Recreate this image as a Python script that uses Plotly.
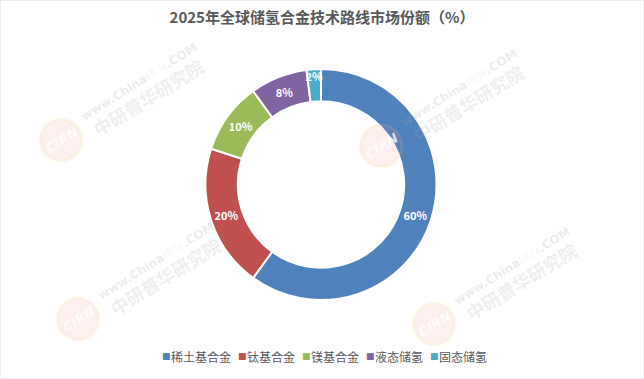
import plotly.graph_objects as go

categories = ["稀土基合金", "钛基合金", "镁基合金", "液态储氢", "固态储氢"]
values = [60, 20, 10, 8, 2]
colors = ["#4F81BD", "#C0504D", "#9BBB59", "#8064A2", "#4BACC6"]
title_text = "2025年全球储氢合金技术路线市场份额（%）"

W, H = 644, 379
top, bottom = 69, 300
cx = 321

fig = go.Figure(go.Pie(
    labels=categories,
    values=values,
    hole=0.72,
    sort=False,
    direction="clockwise",
    rotation=0,
    marker=dict(colors=colors, line=dict(color="white", width=2)),
    texttemplate="<b>%{value}%</b>",
    textposition="inside",
    insidetextorientation="horizontal",
    textfont=dict(color="white", size=11, family="Noto Sans CJK SC"),
    domain=dict(x=[(cx - 200) / W, (cx + 200) / W], y=[(H - bottom) / H, (H - top) / H]),
    hoverinfo="label+percent",
    showlegend=False,
))

def px(x, y):
    return x / W, 1 - y / H

annotations = []
shapes = []

# watermarks (faint)
for (x, y) in [(148, 97), (468, 103), (165, 276), (521, 281)]:
    ax, ay = px(x, y)
    annotations.append(dict(x=ax, y=ay, xref="paper", yref="paper", showarrow=False,
                            xanchor="center", yanchor="middle",
                            text="<b>中研普华研究院</b>", textangle=-32,
                            font=dict(size=18, color="rgba(170,170,170,0.2)", family="Noto Sans CJK SC")))
    wx, wy = px(x - 9, y - 15)
    annotations.append(dict(x=wx, y=wy, xref="paper", yref="paper", showarrow=False,
                            xanchor="center", yanchor="middle",
                            text="<b>www.China<span style='color:rgba(230,120,120,0.3)'>IRN</span>.COM</b>",
                            textangle=-32,
                            font=dict(size=12, color="rgba(170,170,170,0.22)", family="DejaVu Sans")))
    lx, ly = x - 87, y + 43
    shapes.append(dict(type="circle", xref="paper", yref="paper",
                       x0=(lx - 21) / W, x1=(lx + 21) / W, y0=1 - (ly + 21) / H, y1=1 - (ly - 21) / H,
                       fillcolor="rgba(235,120,110,0.11)", line=dict(color="rgba(250,220,120,0.13)", width=3)))
    cxl, cyl = px(lx, ly)
    annotations.append(dict(x=cxl, y=cyl, xref="paper", yref="paper", showarrow=False,
                            xanchor="center", yanchor="middle",
                            text="<b><i>CIRN</i></b>", textangle=-32,
                            font=dict(size=13, color="rgba(255,255,255,0.8)", family="DejaVu Sans")))

# legend built from categories / colors
legend_y = 356
x = 160
for name, col in zip(categories, colors):
    sx, sy = px(x, legend_y)
    annotations.append(dict(x=sx, y=sy, xref="paper", yref="paper", showarrow=False,
                            xanchor="left", yanchor="middle", text="■",
                            font=dict(size=9, color=col, family="DejaVu Sans")))
    tx, ty = px(x + 9, legend_y)
    annotations.append(dict(x=tx, y=ty, xref="paper", yref="paper", showarrow=False,
                            xanchor="left", yanchor="middle", text=name,
                            font=dict(size=12, color="#595959", family="Noto Sans CJK SC")))
    x = x + 9 + 12 * len(name) + 7

shapes.append(dict(type="rect", xref="paper", yref="paper", x0=0, y0=0, x1=1, y1=1,
                   line=dict(color="#D9D9D9", width=1)))

fig.update_layout(
    width=W, height=H,
    margin=dict(l=0, r=0, t=0, b=0),
    paper_bgcolor="white",
    plot_bgcolor="white",
    font=dict(family="Noto Sans CJK SC", color="#595959"),
    title=dict(
        text="<b>" + title_text + "</b>",
        x=0.5, xanchor="center",
        y=1 - 18 / H, yanchor="middle",
        font=dict(size=15, color="#595959", family="Noto Sans CJK SC"),
    ),
    uniformtext=dict(minsize=11, mode="show"),
    showlegend=False,
    annotations=annotations,
    shapes=shapes,
)

fig.write_html("out.html", config={"displayModeBar": False},
               post_script="document.body.style.margin='0';document.body.style.overflow='hidden';")
